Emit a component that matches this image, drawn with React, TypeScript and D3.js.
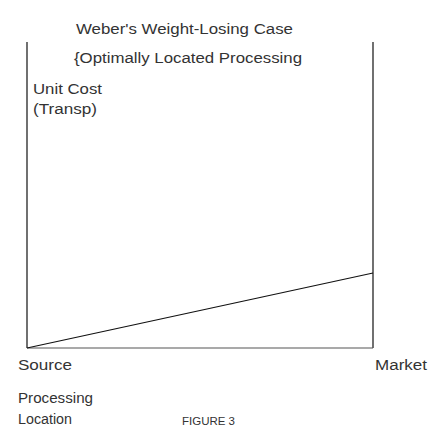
import { useEffect, useRef } from 'react';
import * as d3 from 'd3';

// positions along the route, 0 = source, 1 = market
const locations = [0, 1];
const endLabels = ['Source', 'Market'];
// transport cost per unit when processing at each location
const unitCost = [0, 24.5];
const titleLines = ["Weber's Weight-Losing Case", '{Optimally Located Processing'];
const yLabelLines = ['Unit Cost', '(Transp)'];
const xLabelLines = ['Processing', 'Location'];
const caption = 'FIGURE 3';

export default function App() {
  const ref = useRef<SVGSVGElement>(null);

  useEffect(() => {
    const svg = d3.select(ref.current);
    svg.selectAll('*').remove();

    const font = '"Liberation Sans", Arial, sans-serif';
    const ink = '#333';

    const x = d3.scaleLinear().domain([0, 1]).range([27, 373]);
    const y = d3.scaleLinear().domain([0, 100]).range([348, 42]);

    // frame: two uprights and the floor
    svg
      .append('line')
      .attr('x1', x(0))
      .attr('x2', x(0))
      .attr('y1', y(100))
      .attr('y2', y(0))
      .attr('stroke', '#111')
      .attr('stroke-width', 1.2);
    svg
      .append('line')
      .attr('x1', x(1))
      .attr('x2', x(1))
      .attr('y1', y(100))
      .attr('y2', y(0))
      .attr('stroke', '#111')
      .attr('stroke-width', 1.2);
    svg
      .append('line')
      .attr('x1', x(0))
      .attr('x2', x(1))
      .attr('y1', y(0))
      .attr('y2', y(0))
      .attr('stroke', '#555')
      .attr('stroke-width', 1.2);

    const line = d3
      .line<number>()
      .x((d, i) => x(locations[i]))
      .y(d => y(d));
    svg
      .append('path')
      .datum(unitCost)
      .attr('d', line)
      .attr('fill', 'none')
      .attr('stroke', '#111')
      .attr('stroke-width', 1.2);

    const addText = (t: string, px: number, py: number, len: number) =>
      svg
        .append('text')
        .attr('x', px)
        .attr('y', py)
        .attr('textLength', len)
        .attr('lengthAdjust', 'spacingAndGlyphs')
        .style('font-family', font)
        .style('font-size', '14px')
        .style('fill', ink)
        .text(t);

    addText(titleLines[0], 76, 34, 217);
    addText(titleLines[1], 74, 63, 228);
    addText(yLabelLines[0], 33, 94, 69);
    addText(yLabelLines[1], 33, 114, 64);
    addText(endLabels[0], 18, 370, 54);
    addText(endLabels[1], 375, 370, 52);
    addText(xLabelLines[0], 18, 403, 75);
    addText(xLabelLines[1], 18, 424, 54);
    addText(caption, 182, 425, 53).style('font-size', '11px');
  }, []);

  return (
    <svg
      ref={ref}
      width={435}
      height={427}
      style={{ position: 'absolute', left: 0, top: 0, background: '#fff' }}
    />
  );
}
